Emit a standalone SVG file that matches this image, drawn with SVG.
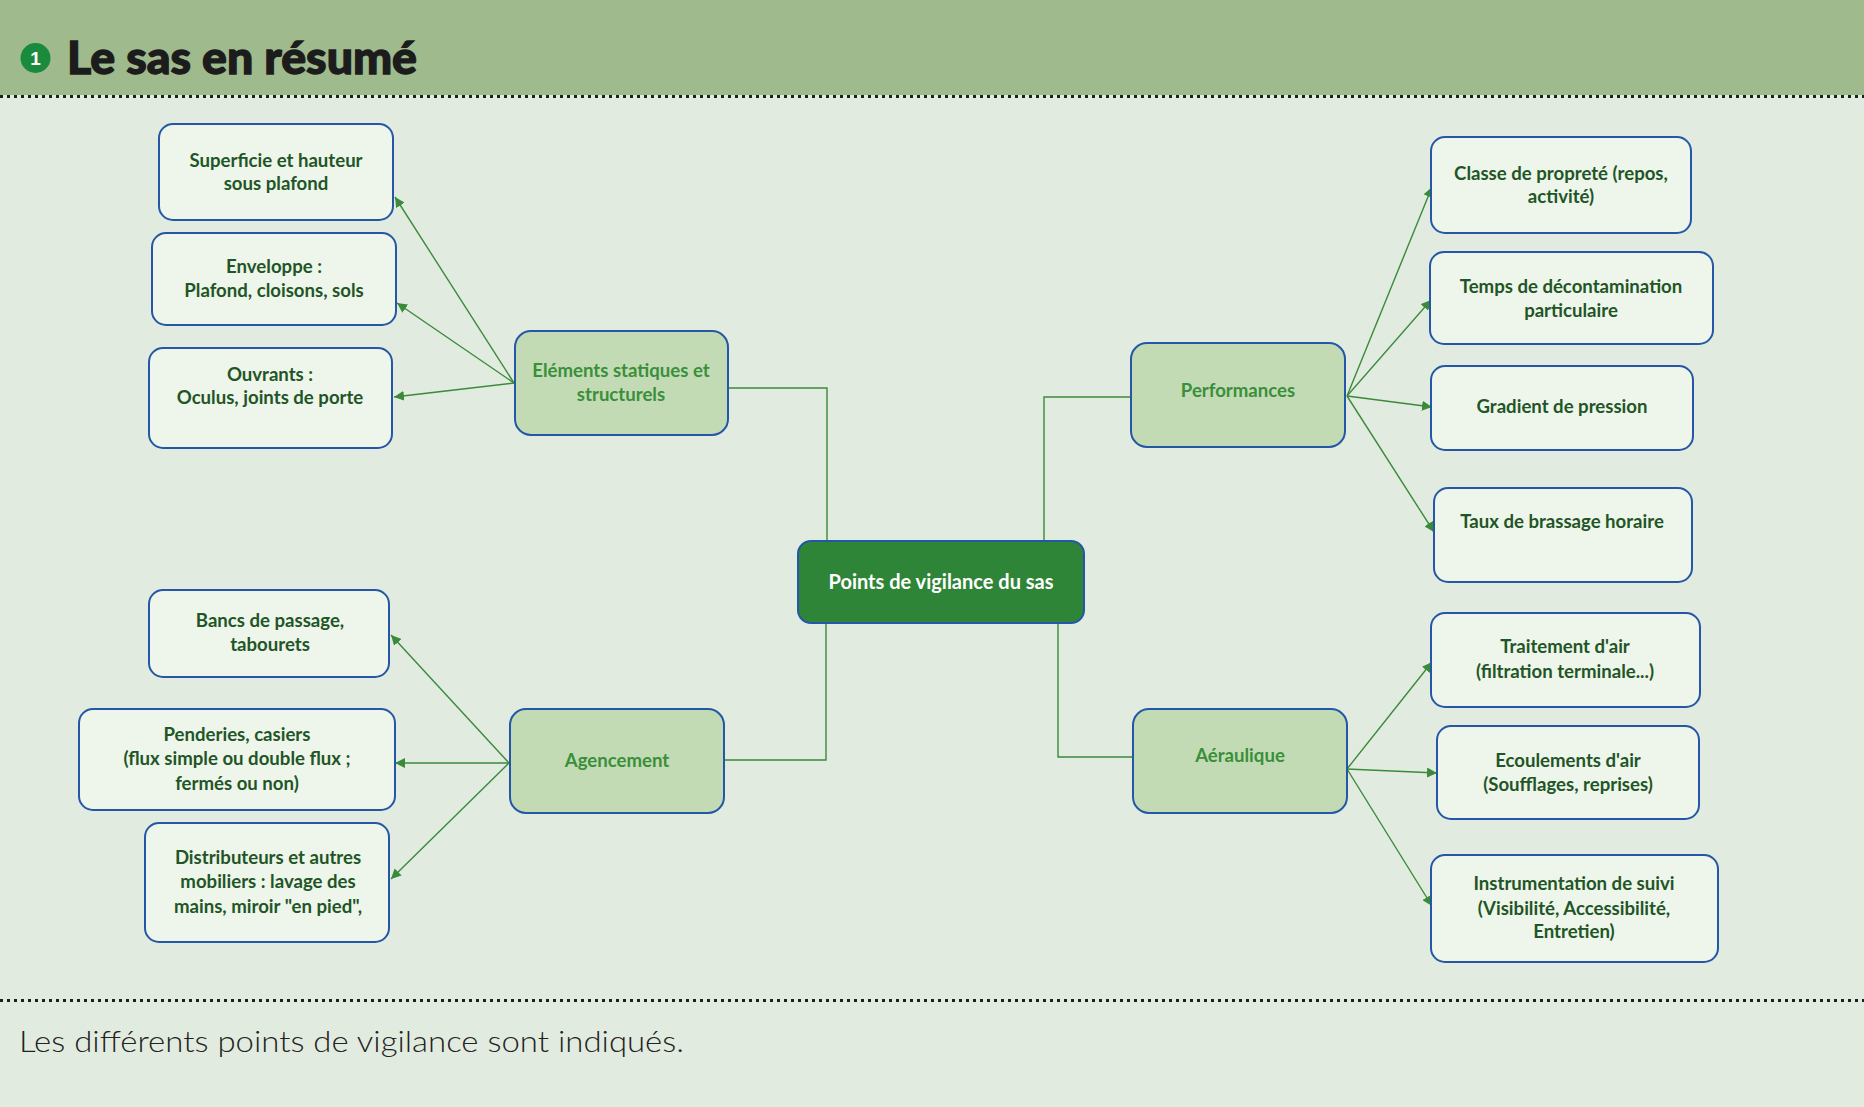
<svg xmlns="http://www.w3.org/2000/svg" width="1864" height="1107" viewBox="0 0 1864 1107">
<defs>
<marker id="ah" viewBox="0 0 10 10" refX="10" refY="5" markerWidth="10" markerHeight="10" markerUnits="userSpaceOnUse" orient="auto">
<path d="M0,0 L10,5 L0,10 z" fill="#3a8a3a"/>
</marker>
</defs>
<style>
.leaf rect{fill:#eef5ea;stroke:#2457a6;stroke-width:2}
.cat rect{fill:#c3dbb5;stroke:#2457a6;stroke-width:2}
.ctr rect{fill:#2f8537;stroke:#2457a6;stroke-width:2}
.leaf text{font-family:Lato,"Liberation Sans",sans-serif;font-weight:bold;font-size:18.6px;fill:#1f5527;text-anchor:middle}
.cat text{font-family:Lato,"Liberation Sans",sans-serif;font-weight:bold;font-size:18.6px;fill:#3a8f3a;text-anchor:middle}
.ctr text{font-family:Lato,"Liberation Sans",sans-serif;font-weight:bold;font-size:20px;fill:#ffffff;text-anchor:middle}
#connectors line,#connectors polyline{stroke:#3a8a3a;stroke-width:1.4;fill:none}
#connectors line{marker-end:url(#ah)}
.dots{stroke:#1e1e1e;stroke-width:3;stroke-dasharray:3 4}
</style>
<rect x="0" y="0" width="1864" height="1107" fill="#e2ebdf"/>
<rect x="0" y="0" width="1864" height="95" fill="#9fba8c"/>
<line class="dots" x1="0" y1="96.5" x2="1864" y2="96.5"/>
<line class="dots" x1="0" y1="1000.5" x2="1864" y2="1000.5"/>
<g id="title">
<circle cx="35.5" cy="58" r="15" fill="#1a8a3c"/>
<text x="35.5" y="65" font-family="'Liberation Sans',sans-serif" font-weight="bold" font-size="19" fill="#ffffff" text-anchor="middle">1</text>
<text x="67" y="74" font-family="Lato,'Liberation Sans',sans-serif" font-weight="900" font-size="46" fill="#1c1c1c" stroke="#1c1c1c" stroke-width="1.3" textLength="350" lengthAdjust="spacingAndGlyphs">Le sas en résumé</text>
</g>
<text x="19" y="1052" font-family="Lato,'Liberation Sans',sans-serif" font-weight="300" font-size="29" fill="#222222" textLength="665" lengthAdjust="spacingAndGlyphs">Les différents points de vigilance sont indiqués.</text>

<g id="connectors">
<polyline points="729,388 827,388 827,541"/>
<polyline points="1131,397 1044,397 1044,541"/>
<polyline points="826,623 826,760 724,760"/>
<polyline points="1058,623 1058,757 1133,757"/>
<line x1="514" y1="383" x2="395" y2="197"/>
<line x1="514" y1="383" x2="397" y2="303"/>
<line x1="514" y1="383" x2="394" y2="397"/>
<line x1="509" y1="763" x2="391" y2="635"/>
<line x1="509" y1="763" x2="395" y2="763"/>
<line x1="509" y1="763" x2="391" y2="879"/>
<line x1="1347" y1="396" x2="1432" y2="187"/>
<line x1="1347" y1="396" x2="1431" y2="300"/>
<line x1="1347" y1="396" x2="1432" y2="407"/>
<line x1="1347" y1="396" x2="1434" y2="532"/>
<line x1="1347" y1="769" x2="1432" y2="662"/>
<line x1="1347" y1="769" x2="1437" y2="773"/>
<line x1="1347" y1="769" x2="1432" y2="906"/>
</g>

<g id="n-center" class="ctr"><rect x="798" y="541" width="286" height="82" rx="13"/><text x="941" y="589">Points de vigilance du sas</text></g>

<g id="n-elements" class="cat"><rect x="515" y="331" width="213" height="104" rx="16"/><text x="621" y="377">Eléments statiques et</text><text x="621" y="401">structurels</text></g>
<g id="n-performances" class="cat"><rect x="1131" y="343" width="214" height="104" rx="16"/><text x="1238" y="397">Performances</text></g>
<g id="n-agencement" class="cat"><rect x="510" y="709" width="214" height="104" rx="16"/><text x="617" y="767">Agencement</text></g>
<g id="n-aeraulique" class="cat"><rect x="1133" y="709" width="214" height="104" rx="16"/><text x="1240" y="762">Aéraulique</text></g>

<g id="n-superficie" class="leaf"><rect x="159" y="124" width="234" height="96" rx="14"/><text x="276" y="167">Superficie et hauteur</text><text x="276" y="190">sous plafond</text></g>
<g id="n-enveloppe" class="leaf"><rect x="152" y="233" width="244" height="92" rx="14"/><text x="274" y="273">Enveloppe :</text><text x="274" y="297">Plafond, cloisons, sols</text></g>
<g id="n-ouvrants" class="leaf"><rect x="149" y="348" width="243" height="100" rx="14"/><text x="270" y="381">Ouvrants :</text><text x="270" y="404">Oculus, joints de porte</text></g>

<g id="n-bancs" class="leaf"><rect x="149" y="590" width="240" height="87" rx="14"/><text x="270" y="627">Bancs de passage,</text><text x="270" y="651">tabourets</text></g>
<g id="n-penderies" class="leaf"><rect x="79" y="709" width="316" height="101" rx="14"/><text x="237" y="741">Penderies, casiers</text><text x="237" y="765">(flux simple ou double flux ;</text><text x="237" y="790">fermés ou non)</text></g>
<g id="n-distributeurs" class="leaf"><rect x="145" y="823" width="244" height="119" rx="14"/><text x="268" y="864">Distributeurs et autres</text><text x="268" y="888">mobiliers : lavage des</text><text x="268" y="913">mains, miroir "en pied",</text></g>

<g id="n-classe" class="leaf"><rect x="1431" y="137" width="260" height="96" rx="14"/><text x="1561" y="180">Classe de propreté (repos,</text><text x="1561" y="203">activité)</text></g>
<g id="n-temps" class="leaf"><rect x="1430" y="252" width="283" height="92" rx="14"/><text x="1571" y="293">Temps de décontamination</text><text x="1571" y="317">particulaire</text></g>
<g id="n-gradient" class="leaf"><rect x="1431" y="366" width="262" height="84" rx="14"/><text x="1562" y="413">Gradient de pression</text></g>
<g id="n-taux" class="leaf"><rect x="1434" y="488" width="258" height="94" rx="14"/><text x="1562" y="528">Taux de brassage horaire</text></g>

<g id="n-traitement" class="leaf"><rect x="1431" y="613" width="269" height="94" rx="14"/><text x="1565" y="653">Traitement d'air</text><text x="1565" y="678">(filtration terminale...)</text></g>
<g id="n-ecoulements" class="leaf"><rect x="1437" y="726" width="262" height="93" rx="14"/><text x="1568" y="767">Ecoulements d'air</text><text x="1568" y="791">(Soufflages, reprises)</text></g>
<g id="n-instrumentation" class="leaf"><rect x="1431" y="855" width="287" height="107" rx="14"/><text x="1574" y="890">Instrumentation de suivi</text><text x="1574" y="915">(Visibilité, Accessibilité,</text><text x="1574" y="938">Entretien)</text></g>
</svg>
